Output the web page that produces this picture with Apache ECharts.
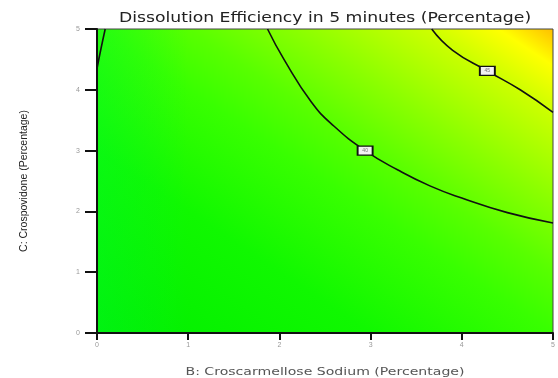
<!DOCTYPE html>
<html>
<head>
<meta charset="utf-8">
<script src="https://cdn.jsdelivr.net/npm/echarts@6/dist/echarts.min.js"></script>
<style>
html, body { margin: 0; padding: 0; background: #fff; }
#main { width: 558px; height: 378px; }
</style>
</head>
<body>
<div id="main"></div>
<script>
// Axis ticks (both factors run 0..5 %)
var bTicks = [0, 1, 2, 3, 4, 5];
var cTicks = [0, 1, 2, 3, 4, 5];

// Contour lines, as [B, C] pairs
var contourEdge = [[0, 4.35], [0.04, 4.65], [0.09, 5]];
var contourMid = [[1.87, 5], [2.05, 4.5], [2.35, 3.8], [2.6, 3.4], [2.94, 3.0], [3.3, 2.68], [3.65, 2.42], [4.0, 2.22], [4.5, 1.98], [5, 1.81]];
var contourHigh = [[3.67, 5], [3.9, 4.65], [4.28, 4.31], [4.64, 4.0], [5, 3.63]];

// Contour label boxes [B, C, text]
var contourLabels = [[2.94, 3.0, "40"], [4.28, 4.31, "45"]];

var chart = echarts.init(document.getElementById("main"));

// plot area in pixels
var gl = 97, gt = 29, gw = 456, gh = 304;
// diagonal gradient so that colour bands follow B + C
var s = 2 * gw * gh / (gw * gw + gh * gh);

function contourSeries(data) {
    return {
        type: "line",
        data: data,
        smooth: 0.5,
        symbol: "none",
        z: 3,
        lineStyle: { color: "#111", width: 1.6 },
    };
}

var option = {
    animation: false,
    grid: {
        left: gl,
        top: gt,
        width: gw,
        height: gh,
        show: true,
        backgroundColor: "transparent",
        borderColor: "#444",
        borderWidth: 1,
    },
    graphic: [
        {
            type: "rect",
            z: -10,
            silent: true,
            shape: { x: gl, y: gt, width: gw, height: gh },
            style: {
                fill: new echarts.graphic.LinearGradient(
                    gl, gt + gh, gl + gh * s, gt + gh - gw * s,
                    [
                        { offset: 0, color: "#00ee00" },
                        { offset: 0.3, color: "#10f800" },
                        { offset: 0.5, color: "#38ff00" },
                        { offset: 0.6, color: "#58ff00" },
                        { offset: 0.72, color: "#8cff00" },
                        { offset: 0.86, color: "#ccff00" },
                        { offset: 0.94, color: "#ffff00" },
                        { offset: 1, color: "#ffbf00" },
                    ],
                    true
                ),
            },
        },
        {
            type: "rect",
            z: -9,
            silent: true,
            shape: { x: gl, y: gt, width: gw, height: gh },
            style: {
                fill: new echarts.graphic.LinearGradient(0, 0, 1, 0, [
                    { offset: 0, color: "rgba(0,250,50,0.35)" },
                    { offset: 0.2, color: "rgba(0,250,50,0)" },
                ]),
            },
        },
        {
            type: "text",
            x: 325,
            y: 18,
            scaleX: 1.23,
            style: {
                text: "Dissolution Efficiency in 5 minutes (Percentage)",
                font: "normal 14px 'DejaVu Sans'",
                fill: "#222",
                align: "center",
                verticalAlign: "middle",
            },
        },
        {
            type: "text",
            x: 325,
            y: 372,
            scaleX: 1.28,
            style: {
                text: "B: Croscarmellose Sodium (Percentage)",
                font: "normal 11px 'DejaVu Sans'",
                fill: "#555",
                align: "center",
                verticalAlign: "middle",
            },
        },
    ],
    xAxis: {
        type: "value",
        min: bTicks[0],
        max: bTicks[bTicks.length - 1],
        interval: 1,
        axisLine: { lineStyle: { color: "#111", width: 2 } },
        axisTick: { length: 7, lineStyle: { color: "#111", width: 2 } },
        axisLabel: { fontSize: 7, color: "#999", margin: 9 },
        splitLine: { show: false },
    },
    yAxis: {
        type: "value",
        min: cTicks[0],
        max: cTicks[cTicks.length - 1],
        interval: 1,
        name: "C: Crospovidone (Percentage)",
        nameLocation: "middle",
        nameGap: 67,
        nameTextStyle: { fontFamily: "Liberation Sans", fontSize: 10.5, color: "#222" },
        axisLine: { lineStyle: { color: "#111", width: 2 } },
        axisTick: { length: 12, lineStyle: { color: "#111", width: 2 } },
        axisLabel: { fontSize: 7, color: "#999", margin: 17 },
        splitLine: { show: false },
    },
    series: [
        contourSeries(contourEdge),
        contourSeries(contourMid),
        contourSeries(contourHigh),
        {
            type: "scatter",
            z: 4,
            symbol: "rect",
            symbolSize: [15, 9],
            data: contourLabels,
            itemStyle: { color: "#f2f2f2", borderColor: "#111", borderWidth: 1.5, opacity: 1 },
            label: {
                show: true,
                position: "inside",
                fontSize: 5,
                color: "#777",
                formatter: function (p) { return p.data[2]; },
            },
        },
    ],
};

chart.setOption(option);
</script>
</body>
</html>
